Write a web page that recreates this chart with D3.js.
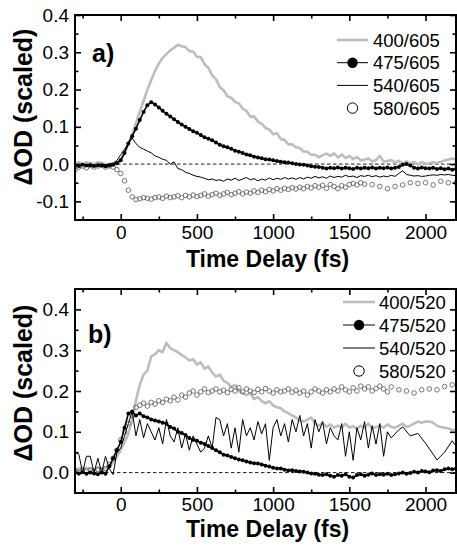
<!DOCTYPE html>
<html>
<head>
<meta charset="utf-8">
<script src="https://cdn.jsdelivr.net/npm/d3@7"></script>
<style>
  body { margin: 0; background: #fff; }
  text { font-family: Arial, "Liberation Sans", Helvetica, sans-serif; fill: #000; }
</style>
</head>
<body>
<svg id="chart" width="457" height="552"></svg>
<script>
// ===== DATA =====
// time delays (fs), one sample every 25 fs
const timeFs = [
  -300, -275, -250, -225, -200, -175, -150, -125, -100, -75,
  -50, -25, 0, 25, 50, 75, 100, 125, 150, 175,
  200, 225, 250, 275, 300, 325, 350, 375, 400, 425,
  450, 475, 500, 525, 550, 575, 600, 625, 650, 675,
  700, 725, 750, 775, 800, 825, 850, 875, 900, 925,
  950, 975, 1000, 1025, 1050, 1075, 1100, 1125, 1150, 1175,
  1200, 1225, 1250, 1275, 1300, 1325, 1350, 1375, 1400, 1425,
  1450, 1475, 1500, 1525, 1550, 1575, 1600, 1625, 1650, 1675,
  1700, 1725, 1750, 1775, 1800, 1825, 1850, 1875, 1900, 1925,
  1950, 1975, 2000, 2025, 2050, 2075, 2100, 2125, 2150, 2175,
  2200
];

const xMajorTicks = [0, 500, 1000, 1500, 2000];
const xMinorTicks = [-250, 250, 750, 1250, 1750];

// ----- panel a) probe 605 nm -----
const labelsA = ['400/605', '475/605', '540/605', '580/605'];
const yTicksA = [-0.1, 0.0, 0.1, 0.2, 0.3, 0.4];
const yMinorA = [-0.05, 0.05, 0.15, 0.25, 0.35];

const a400 = [
  0.000, 0.005, 0.000, 0.005, 0.003, 0.000, 0.005, 0.002, 0.000, 0.000,
  0.003, 0.005, 0.012, 0.030, 0.055, 0.080, 0.110, 0.140, 0.170, 0.200,
  0.225, 0.250, 0.270, 0.285, 0.295, 0.305, 0.312, 0.320, 0.316, 0.314,
  0.303, 0.302, 0.288, 0.287, 0.268, 0.258, 0.238, 0.228, 0.207, 0.198,
  0.182, 0.178, 0.167, 0.163, 0.149, 0.143, 0.127, 0.128, 0.114, 0.108,
  0.097, 0.093, 0.080, 0.083, 0.067, 0.065, 0.053, 0.053, 0.045, 0.043,
  0.034, 0.033, 0.025, 0.025, 0.018, 0.024, 0.028, 0.022, 0.029, 0.018,
  0.026, 0.016, 0.022, 0.013, 0.019, 0.010, 0.012, 0.015, 0.007, 0.011,
  0.022, 0.007, 0.008, 0.011, 0.004, 0.009, 0.002, 0.008, 0.001, 0.006,
  -0.001, 0.005, 0.001, 0.002, 0.005, 0.003, 0.006, 0.010, 0.012, 0.015,
  0.012
];
const a475 = [
  -0.003, -0.005, -0.002, -0.004, -0.003, -0.005, -0.003, -0.004, -0.006, -0.004,
  -0.002, 0.002, 0.010, 0.030, 0.055, 0.075, 0.095, 0.118, 0.140, 0.158,
  0.166, 0.160, 0.152, 0.143, 0.135, 0.128, 0.120, 0.113, 0.106, 0.100,
  0.094, 0.088, 0.084, 0.078, 0.072, 0.068, 0.064, 0.058, 0.052, 0.048,
  0.045, 0.041, 0.036, 0.033, 0.030, 0.026, 0.024, 0.020, 0.018, 0.016,
  0.013, 0.012, 0.010, 0.008, 0.006, 0.005, 0.004, 0.002, 0.000, -0.001,
  -0.002, -0.004, -0.006, -0.007, -0.008, -0.010, -0.012, -0.010, -0.011, -0.009,
  -0.012, -0.010, -0.011, -0.013, -0.010, -0.012, -0.010, -0.011, -0.009, -0.012,
  -0.010, -0.011, -0.009, -0.012, -0.010, -0.008, -0.002, 0.000, -0.004, -0.010,
  -0.012, -0.009, -0.011, -0.012, -0.010, -0.013, -0.011, -0.014, -0.012, -0.015,
  -0.013
];
const a540 = [
  -0.002, 0.000, -0.003, -0.001, -0.004, -0.002, -0.003, -0.001, -0.002, 0.000,
  0.002, 0.010, 0.025, 0.040, 0.055, 0.070, 0.055, 0.045, 0.040, 0.035,
  0.030, 0.022, 0.018, 0.013, 0.010, 0.000, 0.006, -0.012, -0.015, -0.022,
  -0.025, -0.030, -0.033, -0.035, -0.038, -0.042, -0.040, -0.044, -0.042, -0.046,
  -0.040, -0.043, -0.038, -0.044, -0.040, -0.036, -0.042, -0.039, -0.045, -0.040,
  -0.043, -0.037, -0.042, -0.038, -0.041, -0.036, -0.040, -0.037, -0.041, -0.036,
  -0.040, -0.035, -0.038, -0.033, -0.037, -0.034, -0.038, -0.032, -0.036, -0.033,
  -0.035, -0.030, -0.034, -0.032, -0.036, -0.031, -0.033, -0.030, -0.034, -0.031,
  -0.035, -0.032, -0.034, -0.030, -0.033, -0.025, -0.018, -0.028, -0.030, -0.032,
  -0.031, -0.033, -0.032, -0.030, -0.029, -0.030, -0.028, -0.029, -0.028, -0.030,
  -0.031
];
const a580 = [
  -0.015, -0.008, -0.005, -0.010, -0.004, -0.008, -0.005, -0.003, -0.008, -0.005,
  -0.008, -0.015, -0.025, -0.045, -0.070, -0.088, -0.095, -0.093, -0.090, -0.092,
  -0.094, -0.090, -0.088, -0.092, -0.086, -0.090, -0.088, -0.085, -0.090, -0.084,
  -0.088, -0.083, -0.087, -0.084, -0.080, -0.086, -0.082, -0.078, -0.084, -0.080,
  -0.076, -0.082, -0.078, -0.074, -0.080, -0.075, -0.078, -0.072, -0.076, -0.070,
  -0.074, -0.068, -0.072, -0.066, -0.070, -0.065, -0.068, -0.063, -0.067, -0.062,
  -0.066, -0.060, -0.064, -0.058, -0.062, -0.057, -0.065, -0.055, -0.060, -0.066,
  -0.058, -0.062, -0.055, -0.052, -0.056, -0.050, -0.054, null, -0.055, null,
  -0.060, null, -0.066, null, -0.060, null, -0.056, null, -0.050, null,
  -0.052, null, -0.050, null, -0.056, null, -0.046, null, -0.050, null,
  -0.050
];

// ----- panel b) probe 520 nm -----
const labelsB = ['400/520', '475/520', '540/520', '580/520'];
const yTicksB = [0.0, 0.1, 0.2, 0.3, 0.4];
const yMinorB = [0.05, 0.15, 0.25, 0.35];

const b400 = [
  0.005, 0.010, 0.008, 0.012, 0.010, 0.008, 0.012, 0.010, 0.011, 0.015,
  0.025, 0.040, 0.055, 0.075, 0.095, 0.130, 0.178, 0.215, 0.240, 0.250,
  0.285, 0.290, 0.300, 0.295, 0.318, 0.305, 0.300, 0.295, 0.288, 0.283,
  0.275, 0.278, 0.265, 0.270, 0.255, 0.260, 0.245, 0.235, 0.240, 0.225,
  0.220, 0.210, 0.215, 0.200, 0.195, 0.190, 0.195, 0.180, 0.185, 0.175,
  0.170, 0.175, 0.165, 0.160, 0.158, 0.150, 0.146, 0.140, 0.135, 0.128,
  0.125, 0.130, 0.135, 0.120, 0.115, 0.122, 0.112, 0.118, 0.110, 0.115,
  0.110, 0.120, 0.110, 0.114, 0.108, 0.115, 0.110, 0.120, 0.108, 0.112,
  0.115, 0.110, 0.118, 0.112, 0.110, 0.115, 0.120, 0.112, 0.115, 0.120,
  0.125, 0.122, 0.125, 0.125, 0.122, 0.115, 0.112, 0.110, 0.108, 0.105,
  0.104
];
const b475 = [
  0.000, -0.002, 0.001, -0.003, 0.000, -0.002, -0.004, 0.000, -0.003, 0.015,
  0.035, 0.055, 0.075, 0.110, 0.145, 0.150, 0.140, 0.145, 0.138, 0.135,
  0.130, 0.128, 0.125, 0.122, 0.120, 0.112, 0.108, 0.100, 0.097, 0.092,
  0.085, 0.080, 0.078, 0.073, 0.070, 0.065, 0.060, 0.055, 0.050, 0.044,
  0.042, 0.038, 0.035, 0.032, 0.030, 0.027, 0.025, 0.023, 0.022, 0.020,
  0.017, 0.015, 0.012, 0.010, 0.010, 0.007, 0.005, 0.006, 0.004, 0.003,
  0.002, 0.000, -0.002, -0.003, -0.005, -0.006, -0.004, -0.008, -0.010, -0.006,
  -0.008, -0.004, -0.010, -0.012, -0.006, -0.004, -0.008, -0.005, -0.002, -0.006,
  -0.004, -0.005, -0.003, -0.006, -0.004, -0.002, 0.000, -0.003, -0.001, 0.002,
  0.000, 0.004, 0.003, 0.001, 0.005, 0.006, 0.004, 0.008, 0.010, 0.008,
  0.010
];
const b540 = [
  0.050, 0.045, 0.000, 0.040, 0.040, 0.000, 0.035, 0.000, 0.040, 0.010,
  -0.005, 0.050, 0.060, 0.090, 0.120, 0.150, 0.090, 0.130, 0.085, 0.120,
  0.100, 0.080, 0.110, 0.070, 0.130, 0.090, 0.075, 0.110, 0.060, 0.095,
  0.055, 0.090, 0.070, 0.050, 0.060, 0.090, 0.060, 0.135, 0.130, 0.090,
  0.120, 0.060, 0.110, 0.050, 0.130, 0.090, 0.110, 0.080, 0.125, 0.095,
  0.120, 0.030, 0.110, 0.130, 0.090, 0.120, 0.075, 0.130, 0.100, 0.140,
  0.090, 0.120, 0.060, 0.130, 0.100, 0.125, 0.070, 0.110, 0.090, 0.080,
  0.120, 0.040, 0.100, 0.030, 0.110, 0.080, 0.125, 0.060, 0.115, 0.070,
  0.120, 0.040, 0.100, 0.085, 0.095, 0.105, 0.112, null, 0.090, null,
  0.096, null, 0.072, null, 0.045, 0.031, null, 0.050, null, 0.078,
  0.065
];
const b580 = [
  0.005, 0.000, 0.008, 0.003, 0.006, 0.002, 0.008, 0.005, 0.010, 0.020,
  0.035, 0.055, 0.080, 0.100, 0.120, 0.140, 0.160, 0.165, 0.170, 0.163,
  0.172, 0.168, 0.176, 0.172, 0.180, 0.176, 0.185, 0.178, 0.190, 0.185,
  0.195, 0.200, 0.190, 0.198, 0.205, 0.196, 0.200, 0.205, 0.198, 0.202,
  0.196, 0.204, 0.200, 0.208, 0.198, 0.205, 0.200, 0.196, 0.204, 0.198,
  0.206, 0.200, 0.195, 0.203, 0.198, 0.200, 0.205, 0.197, 0.202, 0.195,
  0.200, 0.190, 0.198, 0.205, 0.200, 0.195, 0.203, 0.198, 0.205, 0.200,
  0.210, 0.203, 0.198, 0.208, 0.200, 0.212, 0.205, 0.210, 0.200, 0.206,
  0.212, 0.205, 0.198, 0.210, null, 0.203, null, 0.200, null, 0.195,
  null, 0.203, null, 0.205, null, 0.203, null, 0.211, null, 0.215,
  null
];

// ===== STYLE =====
const GRAY = '#bdbdbd';
const styles = ['gray', 'dots', 'thin', 'open'];
const fmtY = d => d.toFixed(1);
const fmtX = d3.format('d');

const svg = d3.select('#chart');
svg.append('rect').attr('width', 457).attr('height', 552).attr('fill', '#fff');

const x = d3.scaleLinear().domain([-300, 2200]).range([75, 456]);

function toPoints(vals) {
  return timeFs.map((t, i) => ({ t, v: vals[i] })).filter(d => d.v != null);
}

function drawSeries(g, y, vals, style) {
  const pts = toPoints(vals);
  const line = d3.line().x(d => x(d.t)).y(d => y(d.v));
  if (style === 'gray') {
    g.append('path').attr('d', line(pts)).attr('fill', 'none')
      .attr('stroke', GRAY).attr('stroke-width', 2.6).attr('stroke-linejoin', 'round');
  } else if (style === 'thin') {
    g.append('path').attr('d', line(pts)).attr('fill', 'none')
      .attr('stroke', '#000').attr('stroke-width', 1);
  } else if (style === 'dots') {
    g.append('path').attr('d', line(pts)).attr('fill', 'none')
      .attr('stroke', '#000').attr('stroke-width', 1.6);
    g.selectAll(null).data(pts).enter().append('circle')
      .attr('cx', d => x(d.t)).attr('cy', d => y(d.v)).attr('r', 2)
      .attr('fill', '#000');
  } else if (style === 'open') {
    g.selectAll(null).data(pts).enter().append('circle')
      .attr('cx', d => x(d.t)).attr('cy', d => y(d.v)).attr('r', 2.3)
      .attr('fill', 'none').attr('stroke', '#555').attr('stroke-width', 0.8);
  }
}

function drawPanel(p) {
  const y = d3.scaleLinear().domain(p.yDomain).range(p.yRange);
  const [x0, x1] = x.range();
  const top = p.yRange[1], bottom = p.yRange[0];

  svg.append('clipPath').attr('id', 'clip-' + p.key).append('rect')
    .attr('x', x0).attr('y', top).attr('width', x1 - x0).attr('height', bottom - top);

  // zero line
  svg.append('line')
    .attr('x1', x0).attr('x2', x1).attr('y1', y(0)).attr('y2', y(0))
    .attr('stroke', '#000').attr('stroke-width', 0.9).attr('stroke-dasharray', '3.5,2.5');

  const plot = svg.append('g').attr('clip-path', `url(#clip-${p.key})`);
  // draw order: gray, open circles, thin line, filled dots
  [0, 3, 2, 1].forEach(i => drawSeries(plot, y, p.series[i], styles[i]));

  // axes, ticks pointing inward
  const axes = svg.append('g');
  axes.append('g').attr('transform', `translate(0,${bottom})`)
    .call(d3.axisBottom(x).tickValues(xMajorTicks).tickSize(-6).tickPadding(p.xPad).tickFormat(fmtX));
  axes.append('g').attr('transform', `translate(0,${bottom})`)
    .call(d3.axisBottom(x).tickValues(xMinorTicks).tickSize(-3.5).tickFormat(''));
  axes.append('g').attr('transform', `translate(0,${top})`)
    .call(d3.axisTop(x).tickValues(xMajorTicks).tickSize(-6).tickFormat(''));
  axes.append('g').attr('transform', `translate(0,${top})`)
    .call(d3.axisTop(x).tickValues(xMinorTicks).tickSize(-3.5).tickFormat(''));
  axes.append('g').attr('transform', `translate(${x0},0)`)
    .call(d3.axisLeft(y).tickValues(p.yTicks).tickSize(-6).tickPadding(6).tickFormat(fmtY));
  axes.append('g').attr('transform', `translate(${x0},0)`)
    .call(d3.axisLeft(y).tickValues(p.yMinor).tickSize(-3.5).tickFormat(''));
  axes.append('g').attr('transform', `translate(${x1},0)`)
    .call(d3.axisRight(y).tickValues(p.yTicks).tickSize(-6).tickFormat(''));
  axes.append('g').attr('transform', `translate(${x1},0)`)
    .call(d3.axisRight(y).tickValues(p.yMinor).tickSize(-3.5).tickFormat(''));
  axes.selectAll('.domain').remove();
  axes.selectAll('.tick line').attr('stroke', '#000').attr('stroke-width', 1.6);
  axes.selectAll('.tick text')
    .style('font-size', '19px').style('font-family', 'Arial, "Liberation Sans", sans-serif')
    .attr('fill', '#000');

  // frame
  svg.append('rect')
    .attr('x', x0).attr('y', top).attr('width', x1 - x0).attr('height', bottom - top)
    .attr('fill', 'none').attr('stroke', '#000').attr('stroke-width', 2);

  // axis titles
  svg.append('text')
    .attr('transform', `translate(32,${p.yTitleY}) rotate(-90)`)
    .attr('text-anchor', 'middle')
    .style('font-size', '25px').style('font-weight', 'bold')
    .text('ΔOD (scaled)');
  svg.append('text')
    .attr('x', (x0 + x1) / 2 + 2).attr('y', p.xTitleY)
    .attr('text-anchor', 'middle')
    .style('font-size', '23px').style('font-weight', 'bold')
    .text('Time Delay (fs)');

  // panel letter
  svg.append('text')
    .attr('x', p.letterX).attr('y', p.letterY)
    .style('font-size', '25px').style('font-weight', 'bold')
    .text(p.letter);

  // legend
  const lg = svg.append('g');
  p.labels.forEach((lab, i) => {
    const ly = p.legY + i * p.legStep;
    const [lx0, lx1] = p.legLine;
    const st = styles[i];
    if (st !== 'open') {
      lg.append('line').attr('x1', lx0).attr('x2', lx1).attr('y1', ly).attr('y2', ly)
        .attr('stroke', st === 'gray' ? GRAY : '#000')
        .attr('stroke-width', st === 'gray' ? 2.6 : 1);
    }
    if (st === 'dots') {
      lg.append('circle').attr('cx', (lx0 + lx1) / 2).attr('cy', ly).attr('r', 5.2).attr('fill', '#000');
    }
    if (st === 'open') {
      lg.append('circle').attr('cx', (lx0 + lx1) / 2).attr('cy', ly).attr('r', 5.2)
        .attr('fill', 'none').attr('stroke', '#000').attr('stroke-width', 1);
    }
    lg.append('text').attr('x', p.legText).attr('y', ly).attr('dy', '0.36em')
      .style('font-size', '18.5px').text(lab);
  });
}

drawPanel({
  key: 'a', letter: 'a)', letterX: 92, letterY: 62,
  yDomain: [-0.15, 0.4], yRange: [220, 15],
  yTicks: yTicksA, yMinor: yMinorA, xPad: 6,
  yTitleY: 107, xTitleY: 267,
  series: [a400, a475, a540, a580], labels: labelsA,
  legLine: [337, 368], legText: 373, legY: 40, legStep: 22.7
});

drawPanel({
  key: 'b', letter: 'b)', letterX: 88, letterY: 343,
  yDomain: [-0.05, 0.45], yRange: [493, 289],
  yTicks: yTicksB, yMinor: yMinorB, xPad: 5,
  yTitleY: 383, xTitleY: 537,
  series: [b400, b475, b540, b580], labels: labelsB,
  legLine: [343, 375], legText: 379, legY: 302, legStep: 23
});
</script>
</body>
</html>
